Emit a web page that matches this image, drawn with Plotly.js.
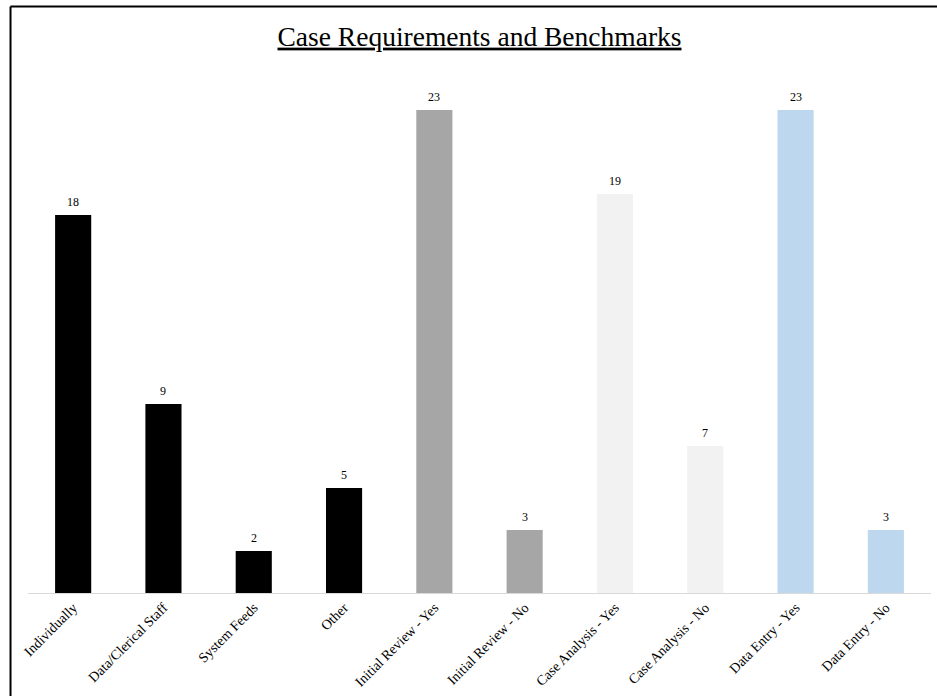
<!DOCTYPE html>
<html>
<head>
<meta charset="utf-8">
<script src="https://cdn.plot.ly/plotly-3.0.1.min.js"></script>
<style>
html,body{margin:0;padding:0;background:#fff;}
#chart{width:937px;height:696px;}
</style>
</head>
<body>
<div id="chart"></div>
<script>
const categories = ["Individually","Data/Clerical Staff","System Feeds","Other","Initial Review - Yes","Initial Review - No","Case Analysis - Yes","Case Analysis - No","Data Entry - Yes","Data Entry - No"];
const values = [18, 9, 2, 5, 23, 3, 19, 7, 23, 3];
const barColors = ["#000000","#000000","#000000","#000000","#a6a6a6","#a6a6a6","#f2f2f2","#f2f2f2","#bdd7ee","#bdd7ee"];
const titleText = "Case Requirements and Benchmarks";

const L = 27.5, T = 68, W = 904, H = 525;
function px2x(p){ return (p - L) / W; }
function py2y(p){ return (T + H - p) / H; }

const trace = {
  type: "bar",
  x: categories,
  y: values,
  marker: {color: barColors, line: {width: 0}},
  hoverinfo: "none"
};

const labels = categories.map((c, i) => ({
  x: c, y: values[i], xref: "x", yref: "y",
  text: String(values[i]), showarrow: false,
  yanchor: "bottom", yshift: 4,
  font: {family: "Liberation Serif", size: 12, color: "#000000"}
}));

const layout = {
  width: 937, height: 696,
  margin: {l: L, r: 937 - L - W, t: T, b: 696 - T - H, pad: 0},
  paper_bgcolor: "#ffffff",
  plot_bgcolor: "#ffffff",
  bargap: 0.6,
  showlegend: false,
  title: {
    text: titleText,
    font: {family: "Liberation Serif", size: 27.5, color: "#000000", lineposition: "under"},
    xref: "paper", x: 0.5, xanchor: "center",
    yref: "container", y: 1 - 36/696, yanchor: "middle"
  },
  xaxis: {
    type: "category",
    range: [-0.5, 9.5],
    showline: true, linecolor: "#d9d9d9", linewidth: 1,
    showgrid: false, zeroline: false, ticks: "",
    tickangle: -45,
    tickfont: {family: "Liberation Serif", size: 14, color: "#000000"},
    fixedrange: true
  },
  yaxis: {
    range: [0, 25],
    visible: false,
    showgrid: false, zeroline: false,
    fixedrange: true
  },
  annotations: labels,
  shapes: [
    {type: "line", xref: "paper", yref: "paper", x0: px2x(10), x1: px2x(960), y0: py2y(6.5), y1: py2y(6.5), line: {color: "#000000", width: 2}},
    {type: "line", xref: "paper", yref: "paper", x0: px2x(10), x1: px2x(10), y0: py2y(6.5), y1: py2y(720), line: {color: "#000000", width: 2}}
  ]
};

Plotly.newPlot("chart", [trace], layout, {displayModeBar: false, staticPlot: true});
</script>
</body>
</html>
